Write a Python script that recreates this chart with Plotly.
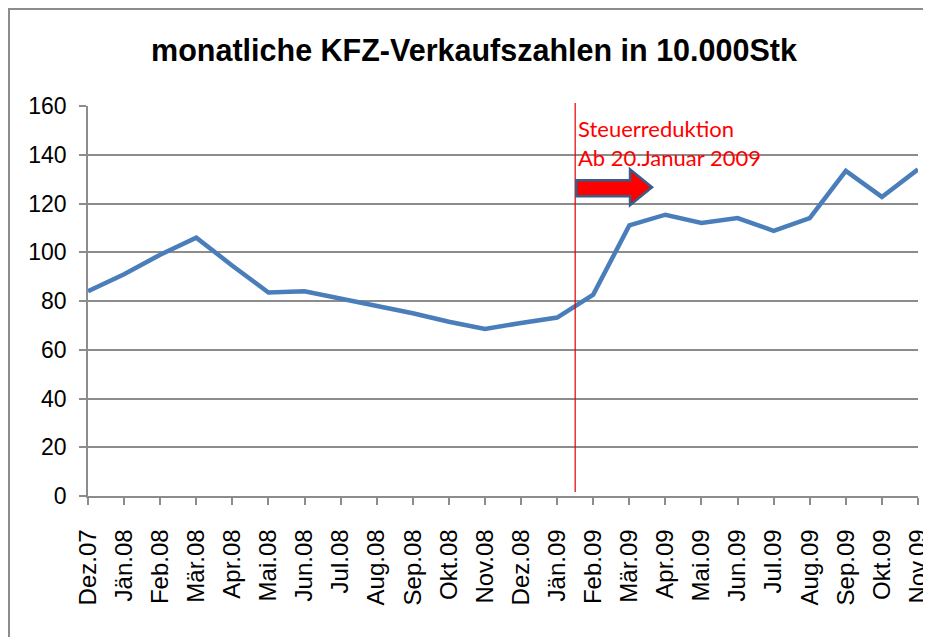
import plotly.graph_objects as go

categories = ["Dez.07", "Jän.08", "Feb.08", "Mär.08", "Apr.08", "Mai.08", "Jun.08",
              "Jul.08", "Aug.08", "Sep.08", "Okt.08", "Nov.08", "Dez.08", "Jän.09",
              "Feb.09", "Mär.09", "Apr.09", "Mai.09", "Jun.09", "Jul.09", "Aug.09",
              "Sep.09", "Okt.09", "Nov.09"]
sales = [84, 91, 99, 106, 94.5, 83.5, 84, 81, 78, 75, 71.5, 68.5, 71, 73.2,
         82.6, 111, 115.4, 112, 114, 108.8, 114, 133.4, 122.7, 134]
y_ticks = [0, 20, 40, 60, 80, 100, 120, 140, 160]

event_x = 13.5  # between Jän.09 and Feb.09
title_text = "monatliche KFZ-Verkaufszahlen in 10.000Stk"
note_text = "Steuerreduktion<br>Ab 20.Januar 2009"

x_idx = list(range(len(categories)))

# page body adds an 8px offset; figure sized to fill the rest of the window
W, H = 923, 629
L, R, T, B = 80, 13, 98, 141
PW, PH = W - L - R, H - T - B

fig = go.Figure()
fig.add_trace(go.Scatter(x=x_idx, y=sales, mode="lines",
                         line=dict(color="#4A7EBB", width=4.5),
                         hoverinfo="skip", showlegend=False))

grid_col = "#8C8C8C"
fig.update_layout(
    template="none",
    width=W, height=H,
    margin=dict(l=L, r=R, t=T, b=B, autoexpand=False),
    paper_bgcolor="white", plot_bgcolor="white",
    title=dict(text=title_text, x=466 / W, xref="container", xanchor="center",
               y=1 - 42 / H, yref="container", yanchor="middle",
               font=dict(family="Liberation Sans, Arial",
                         size=30.5, color="black", weight="bold")),
    xaxis=dict(range=[0, 23], tickvals=x_idx, ticktext=categories, automargin=False,
               tickangle=-90, ticks="outside", ticklen=7, tickcolor=grid_col, tickwidth=1.5,
               showline=True, linecolor=grid_col, linewidth=1.5, showgrid=False,
               zeroline=False, ticklabelstandoff=15,
               tickfont=dict(family="Liberation Sans, Arial", size=24, color="black")),
    yaxis=dict(range=[0, 160], tickvals=y_ticks, ticks="outside", ticklen=7, automargin=False,
               tickcolor=grid_col, tickwidth=1.5,
               showline=True, linecolor=grid_col, linewidth=1.5,
               showgrid=True, gridcolor=grid_col, gridwidth=1.5, zeroline=False,
               ticklabelstandoff=8,
               tickfont=dict(family="Liberation Sans, Arial", size=23, color="black")),
)

# vertical event line
fig.add_shape(type="line", xref="x", yref="paper", x0=event_x, x1=event_x,
              y0=0.01, y1=1.008, line=dict(color="#E00000", width=1.2))

# block arrow
x_l = event_x + 0.03
x_b = event_x + 1.52
x_t = event_x + 2.13
path = (f"M {x_l},129.5 L {x_b},129.5 L {x_b},134.0 L {x_t},126.7 "
        f"L {x_b},119.3 L {x_b},123.0 L {x_l},123.0 Z")
fig.add_shape(type="path", xref="x", yref="y", path=path,
              fillcolor="#FF0000", line=dict(color="#385D8A", width=2.5))

fig.add_annotation(x=event_x, y=157, xref="x", yref="y", xanchor="left", yanchor="top",
                   xshift=1, text=note_text, showarrow=False, align="left",
                   font=dict(family="Lato, Open Sans", size=22, color="#FF0000"))

# outer border (top and left visible)
fig.add_shape(type="rect", xref="paper", yref="paper",
              x0=(1 - L) / PW, x1=1.2, y0=-0.5, y1=(PH + T - 1) / PH,
              line=dict(color="#8C8C8C", width=2), layer="below")

fig.write_html("out.html")
